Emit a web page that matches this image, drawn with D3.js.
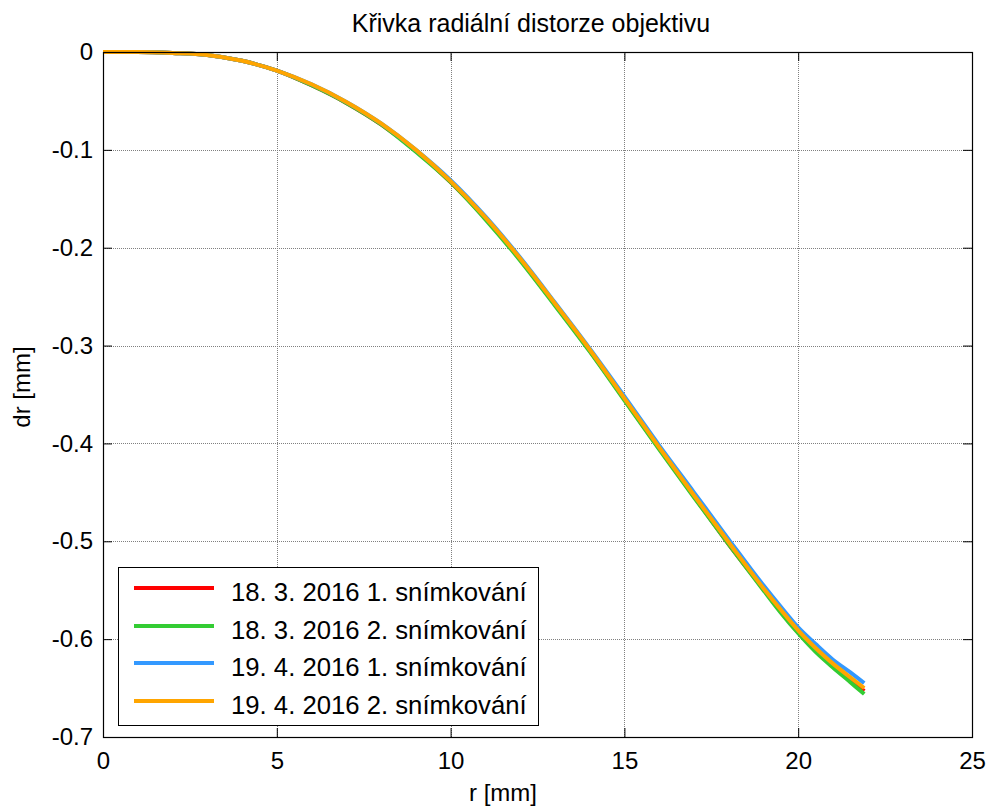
<!DOCTYPE html>
<html>
<head>
<meta charset="utf-8">
<script src="https://cdn.jsdelivr.net/npm/d3@7"></script>
<style>
  html, body { margin: 0; padding: 0; background: #fff; }
  svg { display: block; font-family: "Liberation Sans", Arial, sans-serif; }
</style>
</head>
<body>
<svg id="chart" width="990" height="808"></svg>
<script>
// ---- data ----
const title = "Křivka radiální distorze objektivu";
const xLabel = "r [mm]";
const yLabel = "dr [mm]";
const xTicks = [0, 5, 10, 15, 20, 25];
const yTicks = [0, -0.1, -0.2, -0.3, -0.4, -0.5, -0.6, -0.7];
const seriesNames = [
  "18. 3. 2016 1. snímkování",
  "18. 3. 2016 2. snímkování",
  "19. 4. 2016 1. snímkování",
  "19. 4. 2016 2. snímkování"
];
const seriesColors = ["#ff0000", "#33cc33", "#3399ff", "#ffa500"];
const rValues = [0, 1, 2, 3, 4, 5, 6, 7, 8, 9, 10, 11, 12, 13, 14, 15, 16, 17, 18, 19, 19.5, 20, 20.5, 21, 21.5, 21.9];
const dr1 = [0, 0, -0.001, -0.003, -0.009, -0.019, -0.034, -0.052, -0.074, -0.101, -0.133, -0.170, -0.212, -0.258, -0.305, -0.355, -0.405, -0.454, -0.503, -0.549, -0.572, -0.593, -0.611, -0.627, -0.641, -0.653];
const dr2 = [0, 0, -0.001, -0.003, -0.009, -0.019, -0.034, -0.052, -0.074, -0.102, -0.133, -0.171, -0.213, -0.259, -0.306, -0.356, -0.406, -0.455, -0.503, -0.550, -0.573, -0.594, -0.613, -0.629, -0.644, -0.656];
const dr3 = [0, 0, -0.001, -0.003, -0.009, -0.019, -0.033, -0.051, -0.073, -0.100, -0.131, -0.168, -0.210, -0.256, -0.303, -0.352, -0.402, -0.450, -0.498, -0.545, -0.567, -0.588, -0.605, -0.621, -0.634, -0.645];
const dr4 = [0, 0, -0.001, -0.003, -0.009, -0.019, -0.033, -0.051, -0.073, -0.100, -0.132, -0.169, -0.211, -0.257, -0.304, -0.354, -0.404, -0.453, -0.501, -0.548, -0.570, -0.591, -0.609, -0.625, -0.639, -0.650];
const seriesValues = [dr1, dr2, dr3, dr4];

// ---- layout ----
const pLeft = 103, pRight = 972, pTop = 52, pBottom = 737;
const svg = d3.select("#chart");
const x = d3.scaleLinear().domain([0, 25]).range([pLeft, pRight]);
const y = d3.scaleLinear().domain([-0.7, 0]).range([pBottom, pTop]);

// grid
const grid = svg.append("g");
grid.selectAll("line.gx").data(xTicks.filter(d => d > 0 && d < 25)).enter().append("line")
  .attr("x1", d => Math.round(x(d)) + 0.5).attr("x2", d => Math.round(x(d)) + 0.5)
  .attr("y1", pTop).attr("y2", pBottom)
  .attr("stroke", "#808080").attr("stroke-width", 1).attr("stroke-dasharray", "1,1");
grid.selectAll("line.gy").data(yTicks.filter(d => d < 0 && d > -0.7)).enter().append("line")
  .attr("y1", d => Math.round(y(d)) + 0.5).attr("y2", d => Math.round(y(d)) + 0.5)
  .attr("x1", pLeft).attr("x2", pRight)
  .attr("stroke", "#808080").attr("stroke-width", 1).attr("stroke-dasharray", "1,1");

// lines
const line = d3.line().x(d => x(d[0])).y(d => y(d[1])).curve(d3.curveMonotoneX);
seriesValues.forEach((vals, i) => {
  svg.append("path")
    .datum(rValues.map((r, j) => [r, vals[j]]))
    .attr("fill", "none")
    .attr("stroke", seriesColors[i])
    .attr("stroke-width", 4)
    .attr("stroke-linejoin", "round")
    .attr("d", line);
});

// axes (ticks inward)
const tickLen = 9;
const axB = d3.axisBottom(x).tickValues(xTicks).tickSize(-tickLen).tickPadding(15).tickFormat(d3.format("d"));
const axT = d3.axisTop(x).tickValues(xTicks).tickSize(-tickLen).tickFormat("");
const axL = d3.axisLeft(y).tickValues(yTicks).tickSize(-tickLen).tickPadding(10)
  .tickFormat(d => d === 0 ? "0" : d3.format(".1f")(d).replace("−", "-"));
const axR = d3.axisRight(y).tickValues(yTicks).tickSize(-tickLen).tickFormat("");

function styleAxis(g) {
  g.select(".domain").remove();
  g.selectAll(".tick line").attr("stroke", "#000").attr("stroke-width", 1);
  g.selectAll(".tick text").attr("fill", "#000").attr("font-size", 24)
    .attr("font-family", "'Liberation Sans', Arial, sans-serif");
}
svg.append("g").attr("transform", `translate(0,${pBottom})`).call(axB).call(styleAxis);
svg.append("g").attr("transform", `translate(0,${pTop})`).call(axT).call(styleAxis);
svg.append("g").attr("transform", `translate(${pLeft},0)`).call(axL).call(styleAxis);
svg.append("g").attr("transform", `translate(${pRight},0)`).call(axR).call(styleAxis);

// frame
svg.append("rect").attr("x", pLeft + 0.5).attr("y", pTop + 0.5)
  .attr("width", pRight - pLeft).attr("height", pBottom - pTop)
  .attr("fill", "none").attr("stroke", "#000").attr("stroke-width", 1.2);

// title and labels
svg.append("text").attr("x", 531).attr("y", 32).attr("text-anchor", "middle")
  .attr("font-size", 25).attr("fill", "#000").text(title);
svg.append("text").attr("x", 503).attr("y", 801).attr("text-anchor", "middle")
  .attr("font-size", 24).attr("fill", "#000").text(xLabel);
svg.append("text").attr("transform", "translate(30,387) rotate(-90)").attr("text-anchor", "middle")
  .attr("font-size", 24).attr("fill", "#000").text(yLabel);

// legend
const lg = svg.append("g");
lg.append("rect").attr("x", 118.5).attr("y", 567.5).attr("width", 420).attr("height", 158)
  .attr("fill", "#fff").attr("stroke", "#000").attr("stroke-width", 1);
const rowY = [588, 626, 663, 701];
seriesNames.forEach((name, i) => {
  lg.append("line").attr("x1", 134).attr("x2", 214).attr("y1", rowY[i]).attr("y2", rowY[i])
    .attr("stroke", seriesColors[i]).attr("stroke-width", 4);
  lg.append("text").attr("x", 231).attr("y", rowY[i] + 13)
    .attr("font-size", 25.7).attr("fill", "#000").text(name);
});
</script>
</body>
</html>
